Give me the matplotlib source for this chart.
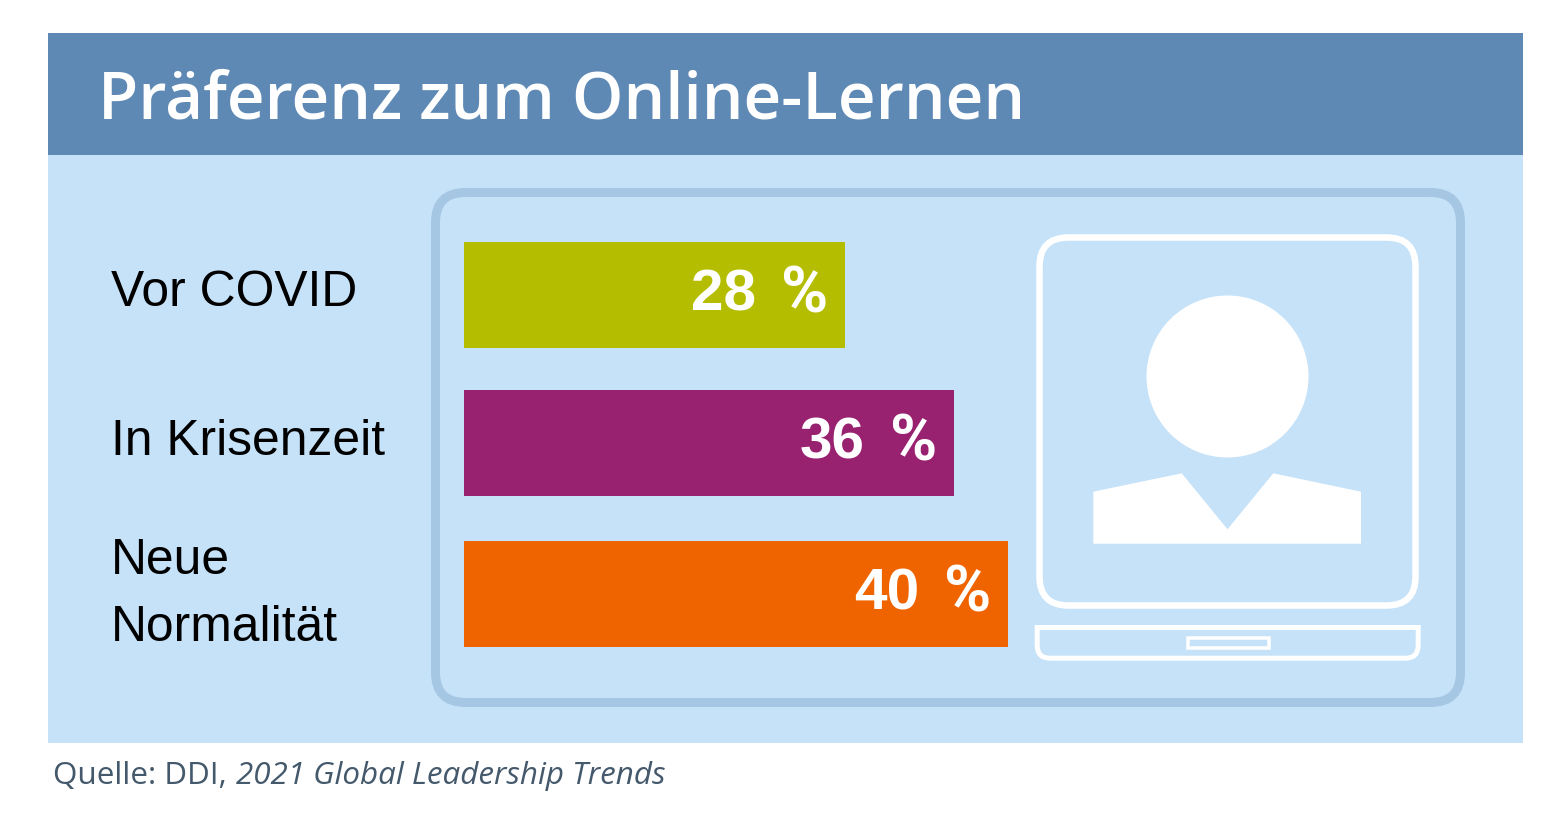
"""
Online learning preference infographic.
"""
import matplotlib
matplotlib.use('Agg')
import matplotlib.pyplot as plt
from matplotlib.patches import Rectangle, FancyBboxPatch, Circle, Polygon, PathPatch
from matplotlib.path import Path

W, H = 1568, 813

categories = ['Vor COVID', 'In Krisenzeit', 'Neue\nNormalität']
values = [28, 36, 40]
bar_colors = ['#B5BD00', '#98226F', '#F06400']
value_labels = ['28', '36', '40']

title = 'Präferenz zum Online-Lernen'
source = 'Quelle: DDI, '
source_italic = '2021 Global Leadership Trends'

HEADER = '#5F89B5'
PANEL = '#C6E2F8'
FRAME = '#A5C7E4'
SOURCE_COLOR = '#44596B'


def px(size):
    """Pixel size to points at dpi 100."""
    return size * 0.72


def round_box(ax, x0, y0, x1, y1, radius, lw, color):
    ax.add_patch(FancyBboxPatch((x0 + radius, y0 + radius), x1 - x0 - 2 * radius, y1 - y0 - 2 * radius,
                                boxstyle=f'round,pad={radius},rounding_size={radius}',
                                facecolor='none', edgecolor=color, linewidth=px(lw)))


fig = plt.figure(figsize=(W / 100, H / 100), dpi=100, facecolor='white')

# Background axes in pixel coordinates
ax = fig.add_axes([0, 0, 1, 1])
ax.set_xlim(0, W)
ax.set_ylim(H, 0)
ax.axis('off')

ax.add_patch(Rectangle((48, 155), 1475, 588, facecolor=PANEL, edgecolor='none'))
ax.add_patch(Rectangle((48, 33.5), 1475, 121.5, facecolor=HEADER, edgecolor='none'))
ax.text(98.5, 118.5, title, family='Open Sans', weight=600, fontsize=px(65.6), color='white', va='baseline')

# Outer frame
round_box(ax, 435.5, 192.5, 1460.5, 702.5, 30, 9, FRAME)

# Laptop screen
round_box(ax, 1039.5, 237.5, 1415.5, 605.5, 29, 6.5, 'white')

# Person
ax.add_patch(Circle((1227.5, 376.5), 81, facecolor='white', edgecolor='none'))
ax.add_patch(Polygon([(1093.3, 491.7), (1181.7, 473.3), (1227.5, 529.3), (1273.3, 473.3),
                      (1361, 491.7), (1361, 543.7), (1093.3, 543.7)],
                     closed=True, facecolor='white', edgecolor='none'))

# Laptop base, square on top and rounded below
bx0, bx1, by0, by1, r = 1037.2, 1418.2, 627.5, 658.2, 13
base = Path([(bx0, by0), (bx1, by0), (bx1, by1 - r), (bx1, by1), (bx1 - r, by1),
             (bx0 + r, by1), (bx0, by1), (bx0, by1 - r), (bx0, by0)],
            [Path.MOVETO, Path.LINETO, Path.LINETO, Path.CURVE3, Path.CURVE3,
             Path.LINETO, Path.CURVE3, Path.CURVE3, Path.CLOSEPOLY])
ax.add_patch(PathPatch(base, facecolor='none', edgecolor='white', linewidth=px(5)))
ax.add_patch(Rectangle((1188, 637.7), 81, 10.3, facecolor='none', edgecolor='white', linewidth=px(3.5)))

# Category labels
label_size = px(49.7)
ax.text(111, 306, categories[0], family='Liberation Sans', fontsize=label_size, color='black', va='baseline')
ax.text(111, 455, categories[1], family='Liberation Sans', fontsize=label_size, color='black', va='baseline')
first, second = categories[2].split('\n')
ax.text(111, 574, first, family='Liberation Sans', fontsize=label_size, color='black', va='baseline')
ax.text(111, 641, second, family='Liberation Sans', fontsize=label_size, color='black', va='baseline')

# Source line
ax.text(53, 784, source, family='Open Sans', fontsize=px(31.4), color=SOURCE_COLOR, va='baseline')
ax.text(236, 784, source_italic, family='Open Sans', style='italic', fontsize=px(31.4),
        color=SOURCE_COLOR, va='baseline')

# Bars: 40 % spans 544 px from x=464
bar_ax = fig.add_axes([464 / W, 0, 544 / W, 1])
bar_ax.set_xlim(0, 40)
bar_ax.set_ylim(H, 0)
bar_ax.axis('off')
bar_ax.patch.set_alpha(0)

bar_centers = [295, 443, 594]
bar_ax.barh(bar_centers, values, height=105.5, color=bar_colors, linewidth=0)
for center, value, label in zip(bar_centers, values, value_labels):
    # Number and percent sign are set apart, the sign is taller and narrower
    bar_ax.annotate(label, (value, center + 15), xytext=(-88.5, 0), textcoords='offset pixels',
                    family='Liberation Sans', weight='bold', fontsize=px(58.5), color='white',
                    ha='right', va='baseline')
    bar_ax.annotate('%', (value, center + 17), xytext=(-16.5, 0), textcoords='offset pixels',
                    family='Roboto', weight='bold', fontsize=px(64), color='white',
                    ha='right', va='baseline')

fig.savefig('out.png', dpi=100)
plt.close(fig)
